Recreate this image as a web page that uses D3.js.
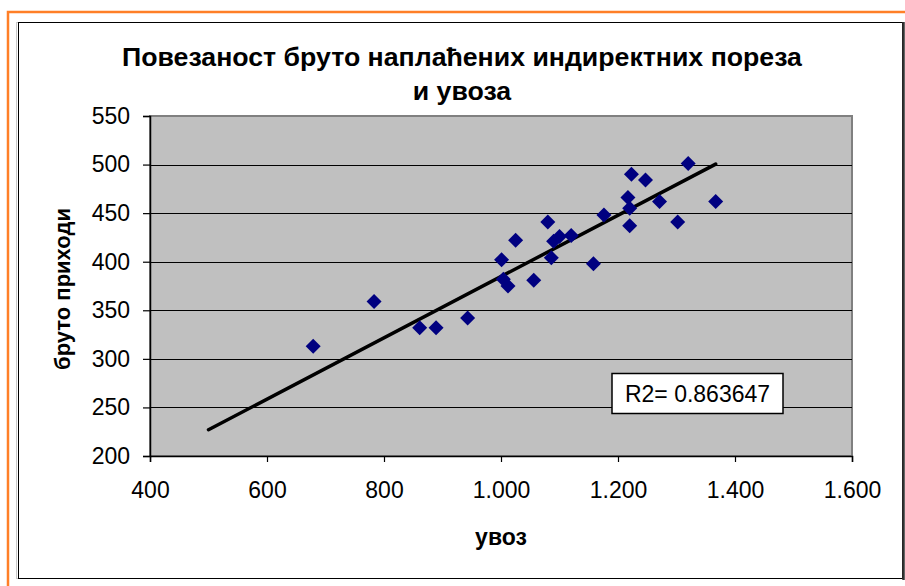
<!DOCTYPE html>
<html>
<head>
<meta charset="utf-8">
<script src="https://cdn.jsdelivr.net/npm/d3@7"></script>
<style>
  body { margin: 0; background: #fff; }
  text { font-family: "Liberation Sans", Arial, sans-serif; }
</style>
</head>
<body>
<svg id="chart" width="905" height="586"></svg>
<script>
// data
var uvoz   = [679, 783, 861, 889, 943, 1001, 1004, 1012, 1025, 1056, 1080, 1086, 1090,
              1100, 1120, 1158, 1176, 1217, 1220, 1220, 1223, 1247, 1271, 1302, 1320, 1367];
var prihod = [313, 359, 332, 332, 342, 402, 382, 375, 422, 381, 441, 404, 421,
              426, 427, 398, 448, 466, 455, 437, 490, 484, 462, 441, 501, 462];
// trend line as drawn in the picture (end points)
var trendX = [500, 1367];
var trendY = [227, 500.5];
var xTicks = [400, 600, 800, 1000, 1200, 1400, 1600];
var yTicks = [200, 250, 300, 350, 400, 450, 500, 550];
var r2Label = "R2= 0.863647";
var titleLines = ["Повезаност бруто наплаћених индиректних пореза", "и увоза"];

var svg = d3.select("#chart");
var margin = {left: 150, top: 116, right: 852, bottom: 456};

// outer frames
svg.append("path")
    .attr("d", "M8,586 V12 H905")
    .attr("fill", "none").attr("stroke", "#ff7f27").attr("stroke-width", 2.5);
svg.append("rect")
    .attr("x", 16.5).attr("y", 22.5).attr("width", 886).attr("height", 556)
    .attr("fill", "none").attr("stroke", "#c8c8c8").attr("stroke-width", 1);
svg.append("rect")
    .attr("x", 18.5).attr("y", 22.5).attr("width", 884).attr("height", 556)
    .attr("fill", "#fff").attr("stroke", "#000").attr("stroke-width", 1);
svg.append("line")
    .attr("x1", 903.5).attr("x2", 903.5).attr("y1", 22).attr("y2", 580)
    .attr("stroke", "#333").attr("stroke-width", 2.5);

var x = d3.scaleLinear().domain([400, 1600]).range([margin.left, margin.right]);
var y = d3.scaleLinear().domain([200, 550]).range([margin.bottom, margin.top]);

// plot area
svg.append("rect")
    .attr("x", margin.left).attr("y", margin.top)
    .attr("width", margin.right - margin.left).attr("height", margin.bottom - margin.top)
    .attr("fill", "#c0c0c0").attr("stroke", "#808080").attr("stroke-width", 2);

// gridlines
svg.append("g").selectAll("line")
    .data(yTicks.filter(function(d) { return d > 200 && d < 550; }))
    .enter().append("line")
    .attr("x1", margin.left).attr("x2", margin.right)
    .attr("y1", function(d) { return Math.round(y(d)) + 0.5; })
    .attr("y2", function(d) { return Math.round(y(d)) + 0.5; })
    .attr("stroke", "#000").attr("stroke-width", 1.2);

// axes
var fmt = function(d) { return d >= 1000 ? d3.format(",")(d).replace(",", ".") : d; };

var xAxis = svg.append("g")
    .attr("transform", "translate(0," + margin.bottom + ")")
    .call(d3.axisBottom(x).tickValues(xTicks).tickSize(6).tickPadding(20).tickFormat(fmt));
var yAxis = svg.append("g")
    .attr("transform", "translate(" + margin.left + ",0)")
    .call(d3.axisLeft(y).tickValues(yTicks).tickSize(7).tickPadding(13));

[xAxis, yAxis].forEach(function(a) {
    a.select(".domain").attr("stroke", "#000").attr("stroke-width", 1.5);
    a.selectAll(".tick line").attr("stroke", "#000").attr("stroke-width", 1.2);
    a.selectAll(".tick text")
        .attr("fill", "#000")
        .style("font-size", "23px")
        .style("font-family", "'Liberation Sans', Arial, sans-serif");
});

// trend line
svg.append("line")
    .attr("x1", x(trendX[0])).attr("y1", y(trendY[0]))
    .attr("x2", x(trendX[1])).attr("y2", y(trendY[1]))
    .attr("stroke", "#000").attr("stroke-width", 3.5).attr("stroke-linecap", "round");

// points
var pts = uvoz.map(function(d, i) { return [d, prihod[i]]; });
svg.append("g").selectAll("path")
    .data(pts)
    .enter().append("path")
    .attr("transform", function(d) { return "translate(" + x(d[0]) + "," + y(d[1]) + ")"; })
    .attr("d", "M0,-7.5L7.5,0L0,7.5L-7.5,0Z")
    .attr("fill", "#000080");

// R2 box
svg.append("rect")
    .attr("x", 612).attr("y", 373.5).attr("width", 171).attr("height", 40)
    .attr("fill", "#fff").attr("stroke", "#000").attr("stroke-width", 1.5);
svg.append("text")
    .attr("x", 697.5).attr("y", 402).attr("text-anchor", "middle")
    .style("font-size", "23px").text(r2Label);

// titles
svg.append("g").selectAll("text")
    .data(titleLines)
    .enter().append("text")
    .attr("x", 462).attr("y", function(d, i) { return 66 + i * 34; })
    .attr("text-anchor", "middle")
    .style("font-size", "26.7px").style("font-weight", "bold")
    .text(function(d) { return d; });

svg.append("text")
    .attr("x", 501).attr("y", 545).attr("text-anchor", "middle")
    .style("font-size", "23px").style("font-weight", "bold")
    .text("увоз");

svg.append("text")
    .attr("transform", "translate(70,289) rotate(-90)")
    .attr("text-anchor", "middle")
    .style("font-size", "22px").style("font-weight", "bold")
    .text("бруто приходи");
</script>
</body>
</html>
